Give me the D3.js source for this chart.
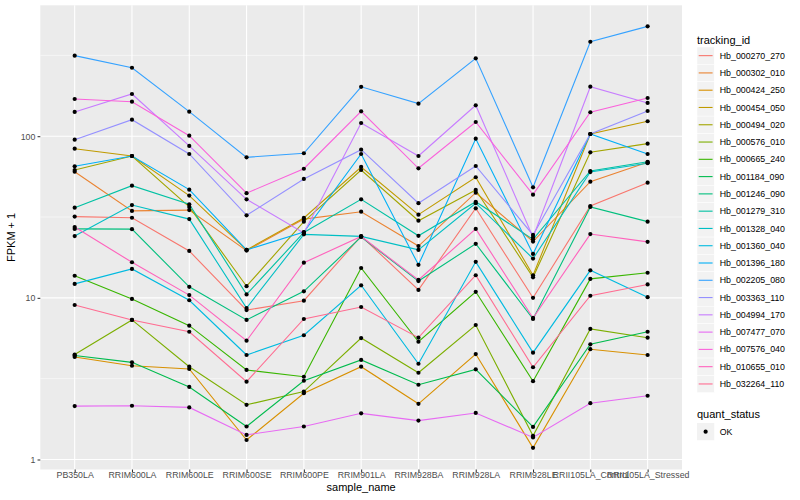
<!DOCTYPE html>
<html><head><meta charset="utf-8">
<script src="https://cdn.jsdelivr.net/npm/d3@7"></script>
<style>body{margin:0;background:#fff;} text{font-family:"Liberation Sans",Arial,Helvetica,sans-serif;}</style>
</head><body><svg id="c" width="800" height="500"></svg>
<script>
const samples = ["PB350LA","RRIM600LA","RRIM600LE","RRIM600SE","RRIM600PE","RRIM901LA","RRIM928BA","RRIM928LA","RRIM928LE","RRII105LA_Control","RRII105LA_Stressed"];
const trackingIds = ["Hb_000270_270","Hb_000302_010","Hb_000424_250","Hb_000454_050","Hb_000494_020","Hb_000576_010","Hb_000665_240","Hb_001184_090","Hb_001246_090","Hb_001279_310","Hb_001328_040","Hb_001360_040","Hb_001396_180","Hb_002205_080","Hb_003363_110","Hb_004994_170","Hb_007477_070","Hb_007576_040","Hb_010655_010","Hb_032264_110"];
const colors = ["#F8766D","#EA8331","#D89000","#C09B00","#A3A500","#7CAE00","#39B600","#00BB4E","#00BF7D","#00C1A3","#00BFC4","#00BAE0","#00B0F6","#35A2FF","#9590FF","#C77CFF","#E76BF3","#FA62DB","#FF62BC","#FF6C91"];
const yTicks = [1, 10, 100];
const yMinor = [3.162, 31.62, 316.2];

// FPKM + 1 per sample, one array per tracking id
const hb000270 = [31.8, 31.3, 19.5, 8.4, 9.6, 24.1, 11.2, 35.8, 10.0, 37.0, 51.6];
const hb000302 = [60.3, 34.5, 34.9, 19.6, 30.7, 34.1, 20.9, 44.7, 22.3, 52.3, 68.9];
const hb000424 = [4.31, 3.80, 3.63, 1.32, 2.57, 3.75, 2.21, 4.49, 1.18, 4.81, 4.43];
const hb000454 = [83.7, 75.4, 42.9, 19.8, 31.2, 64.5, 32.7, 55.7, 13.8, 103.2, 123.7];
const hb000494 = [61.8, 75.4, 36.5, 11.8, 29.6, 61.8, 30.0, 46.5, 13.4, 79.5, 89.9];
const hb000576 = [4.46, 7.30, 3.75, 2.18, 2.63, 5.64, 3.44, 6.79, 1.40, 6.42, 5.67];
const hb000665 = [13.7, 9.84, 6.73, 3.58, 3.25, 15.3, 5.35, 10.9, 3.05, 13.1, 14.3];
const hb001184 = [4.40, 3.99, 2.81, 1.60, 3.07, 4.13, 2.90, 3.61, 1.59, 5.16, 6.17];
const hb001246 = [26.7, 26.6, 11.7, 7.30, 10.98, 23.8, 12.7, 21.6, 7.40, 36.5, 29.6];
const hb001279 = [36.1, 49.4, 37.9, 10.5, 25.4, 40.7, 24.2, 39.3, 23.0, 60.9, 69.5];
const hb001328 = [24.1, 37.5, 30.7, 8.65, 24.7, 24.0, 19.8, 38.5, 17.5, 60.0, 68.0];
const hb001360 = [12.2, 15.1, 9.66, 4.43, 5.87, 11.96, 3.91, 16.7, 4.58, 14.8, 10.1];
const hb001396 = [65.1, 75.4, 46.7, 19.8, 25.5, 77.6, 16.0, 96.5, 18.7, 103.2, 77.6];
const hb002205 = [315, 265, 141.8, 74.0, 78.4, 202, 159, 303, 48.3, 384, 478];
const hb003363 = [95.1, 126.5, 77.6, 32.4, 54.4, 82.5, 38.5, 65.4, 24.5, 103.2, 143.2];
const hb004994 = [141.2, 182.4, 87.0, 40.7, 25.2, 120.7, 75.4, 155.3, 23.7, 202.4, 160.5];
const hb007477 = [2.14, 2.15, 2.10, 1.42, 1.60, 1.93, 1.74, 1.94, 1.37, 2.23, 2.48];
const hb007576 = [169.9, 163.5, 100.7, 44.4, 62.9, 142.6, 63.3, 122.4, 43.5, 140.6, 172.3];
const hb010655 = [27.4, 16.6, 10.4, 5.43, 16.5, 23.96, 12.9, 26.7, 7.51, 24.8, 22.2];
const hb032264 = [9.03, 7.30, 6.17, 3.03, 7.40, 8.78, 5.67, 13.8, 3.72, 10.3, 12.1];

const seriesValues = [hb000270, hb000302, hb000424, hb000454, hb000494, hb000576, hb000665, hb001184, hb001246, hb001279, hb001328, hb001360, hb001396, hb002205, hb003363, hb004994, hb007477, hb007576, hb010655, hb032264];
const series = trackingIds.map((id, i) => ({id, color: colors[i], values: seriesValues[i].map((v, j) => ({s: samples[j], v}))}));

const svg = d3.select("#c");
const P = {l: 40.3, r: 682, t: 5.3, b: 469.5};
const x = d3.scalePoint().domain(samples).range([P.l, P.r]).padding(0.6);
const y = d3.scaleLog().domain([Math.pow(10, -0.0619), Math.pow(10, 2.8097)]).range([P.b, P.t]);

svg.append("rect").attr("x", P.l).attr("y", P.t).attr("width", P.r - P.l).attr("height", P.b - P.t).attr("fill", "#EBEBEB");
const g = svg.append("g");
g.selectAll(".ymin").data(yMinor).join("line").attr("x1", P.l).attr("x2", P.r).attr("y1", d => y(d)).attr("y2", d => y(d)).attr("stroke", "#fff").attr("stroke-width", 0.55);
g.selectAll(".ymaj").data(yTicks).join("line").attr("x1", P.l).attr("x2", P.r).attr("y1", d => y(d)).attr("y2", d => y(d)).attr("stroke", "#fff").attr("stroke-width", 1.1);
g.selectAll(".xmaj").data(samples).join("line").attr("x1", d => x(d)).attr("x2", d => x(d)).attr("y1", P.t).attr("y2", P.b).attr("stroke", "#fff").attr("stroke-width", 1.1);

const line = d3.line().x(d => x(d.s)).y(d => y(d.v));
svg.append("g").selectAll("path").data(series).join("path")
  .attr("d", d => line(d.values)).attr("fill", "none").attr("stroke", d => d.color).attr("stroke-width", 1.1);
svg.append("g").selectAll("circle").data(series.flatMap(d => d.values)).join("circle")
  .attr("cx", d => x(d.s)).attr("cy", d => y(d.v)).attr("r", 2.1).attr("fill", "#000");

// axes
const xAxis = d3.axisBottom(x).tickSize(2.75).tickPadding(0);
const xa = svg.append("g").attr("transform", `translate(0,${P.b})`).call(xAxis);
const yAxis = d3.axisLeft(y).tickValues(yTicks).tickFormat(d3.format("d")).tickSize(2.75).tickPadding(2.2);
const ya = svg.append("g").attr("transform", `translate(${P.l},0)`).call(yAxis);
[xa, ya].forEach(a => {
  a.select(".domain").remove();
  a.selectAll(".tick line").attr("stroke", "#333333").attr("stroke-width", 1.05);
  a.selectAll(".tick text").attr("fill", "#4D4D4D").style("font-size", "8.8px").style("font-family", '"Liberation Sans",Arial,sans-serif');
});
svg.append("text").attr("x", (P.l + P.r) / 2).attr("y", 491).attr("text-anchor", "middle").style("font-size", "11px").attr("fill", "#000").text("sample_name");
svg.append("text").attr("transform", `translate(15,${(P.t + P.b) / 2}) rotate(-90)`).attr("text-anchor", "middle").style("font-size", "11px").attr("fill", "#000").text("FPKM + 1");

// legend: tracking_id
const L = {x: 697, y: 47, key: 17.28};
svg.append("text").attr("x", L.x).attr("y", 44).style("font-size", "11px").attr("fill", "#000").text("tracking_id");
const li = svg.append("g").selectAll("g").data(series).join("g").attr("transform", (d, i) => `translate(${L.x},${L.y + i * L.key})`);
li.append("rect").attr("width", L.key).attr("height", L.key).attr("fill", "#F2F2F2").attr("stroke", "#fff").attr("stroke-width", 0.5);
li.append("line").attr("x1", 1.7).attr("x2", L.key - 1.7).attr("y1", L.key / 2).attr("y2", L.key / 2).attr("stroke", d => d.color).attr("stroke-width", 1.1);
li.append("text").attr("x", L.key + 5.5).attr("y", L.key / 2).attr("dy", "0.35em").style("font-size", "8.8px").attr("fill", "#000").text(d => d.id);

// legend: quant_status
const qy = 423;
svg.append("text").attr("x", L.x).attr("y", 418).style("font-size", "11px").attr("fill", "#000").text("quant_status");
svg.append("rect").attr("x", L.x).attr("y", qy).attr("width", L.key).attr("height", L.key).attr("fill", "#F2F2F2");
svg.append("circle").attr("cx", L.x + L.key / 2).attr("cy", qy + L.key / 2).attr("r", 2.1).attr("fill", "#000");
svg.append("text").attr("x", L.x + L.key + 5.5).attr("y", qy + L.key / 2).attr("dy", "0.35em").style("font-size", "8.8px").attr("fill", "#000").text("OK");
</script></body></html>
